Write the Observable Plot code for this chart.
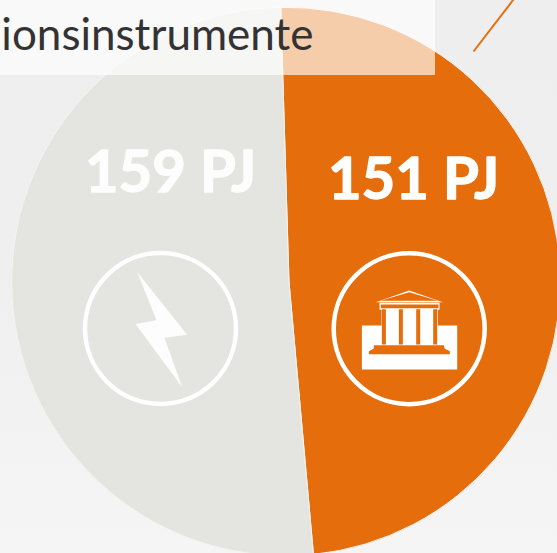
<!DOCTYPE html>
<html><head><meta charset="utf-8">
<script src="https://cdn.jsdelivr.net/npm/d3@7"></script>
<script src="https://cdn.jsdelivr.net/npm/@observablehq/plot@0.6"></script>
<style>
html,body{margin:0;padding:0;overflow:hidden;height:100%}
body{background:linear-gradient(180deg,#eeeeee 0%,#efefef 45%,#f5f5f5 100%)}
svg{display:block}
</style></head><body><div id="c"></div>
<script>
const categories = ["Instrumente", "Strom"];
const values = [151, 159];
const valueUnit = "PJ";
const titleFragment = "ionsinstrumente";
const sliceColors = ["#e56d0b", "#e4e5e0"];

// pie geometry
const pieC = [286, 281.5], pieR = 274.3, apex = [289, 282], startDeg = -1.1;

function pieMark() {
  const arcs = d3.pie().sort(null).value(d => d)
    .startAngle(startDeg * Math.PI / 180)
    .endAngle((startDeg + 360) * Math.PI / 180)(values);
  return () => {
    const g = d3.create("svg:g");
    arcs.forEach((a, i) => {
      const p = d3.path();
      p.moveTo(apex[0], apex[1]);
      p.arc(pieC[0], pieC[1], pieR, a.startAngle - Math.PI / 2, a.endAngle - Math.PI / 2);
      p.closePath();
      g.append("path").attr("d", p.toString()).attr("fill", sliceColors[i])
        .attr("stroke", "#f4f4f2").attr("stroke-width", 1);
    });
    return g.node();
  };
}

const poly = (c, pts) => { pts.forEach((q,i)=> i? c.lineTo(q[0],q[1]) : c.moveTo(q[0],q[1])); c.closePath(); };
const rect = (c, x0,y0,x1,y1) => poly(c, [[x0,y0],[x1,y0],[x1,y1],[x0,y1]]);
const bolt = {draw(c){
  poly(c, [[-23.3,-56.5],[26.7,6.3],[4,9.3],[21.7,58.7],[-25,-4.5],[-4,-8.3]]);
}};
// temple outline, relative to ring centre
const tx = x => (x-266)/3, ty = y => (y-265)/3;
const templeWhite = {draw(c){
  rect(c, tx(124),ty(255),tx(410),ty(387));
  rect(c, tx(183),ty(205),tx(352),ty(256));
  poly(c, [[tx(166),ty(185)],[tx(266),ty(150)],[tx(367),ty(185)]]);
  rect(c, tx(177),ty(187),tx(357),ty(208));
}};
const templeOrange = {draw(c){
  poly(c, [[tx(180),ty(181)],[tx(266),ty(155)],[tx(352),ty(181)]]);
  rect(c, tx(181),ty(192),tx(354),ty(203));
  [[184,196],[235,247],[287,299],[338,350]].forEach(([a,b]) => rect(c, tx(a),ty(206),tx(b),ty(312)));
  poly(c, [[tx(160),ty(314)],[tx(370),ty(314)],[tx(372),ty(324)],[tx(388),ty(332)],[tx(388),ty(341)],[tx(145),ty(341)],[tx(145),ty(332)],[tx(160),ty(324)]]);
}};

const ringL = {frameAnchor:"top-left", dx:160, dy:328};
const ringR = {frameAnchor:"top-left", dx:408.7, dy:328.3};
const one = [0];
const valueFont = {fontFamily:"Lato", fontWeight:700, fontSize:58, textAnchor:"middle", lineAnchor:"middle"};

const chart = Plot.plot({
  width:557, height:553, margin:0,
  x:{type:"identity", axis:null}, y:{type:"identity", axis:null},
  style:{background:"transparent"},
  marks:[
    pieMark(),
    Plot.text([`${values[1]} ${valueUnit}`], {...valueFont, text:d=>d, frameAnchor:"top-left", dx:170, dy:173, fill:"#fdfdfd", stroke:"#fdfdfd", strokeWidth:1.4}),
    Plot.text([`${values[0]} ${valueUnit}`], {...valueFont, text:d=>d, frameAnchor:"top-left", dx:413, dy:180, fill:"white", stroke:"white", strokeWidth:1.4}),
    Plot.dot(one, {...ringL, r:75.5, fill:"none", stroke:"white", strokeWidth:4.5}),
    Plot.dot(one, {...ringR, r:75.5, fill:"none", stroke:"white", strokeWidth:4.5}),
    Plot.dot(one, {...ringL, symbol:bolt, fill:"#fdfdfd", stroke:"none"}),
    Plot.dot(one, {...ringR, symbol:templeWhite, fill:"white", stroke:"none"}),
    Plot.dot(one, {...ringR, symbol:templeOrange, fill:sliceColors[0], stroke:"none"}),
    Plot.rect(one, {x1:()=>0, x2:()=>435, y1:()=>0, y2:()=>75, fill:"white", fillOpacity:0.66}),
    Plot.text([titleFragment], {text:d=>d, frameAnchor:"top-left", dx:313, dy:35, fill:"#333333", fontFamily:"Lato", fontSize:44, textAnchor:"end", lineAnchor:"middle"}),
    Plot.link(one, {x1:()=>473, y1:()=>51, x2:()=>513, y2:()=>-1, stroke:sliceColors[0], strokeWidth:2})
  ]
});
document.getElementById("c").append(chart);
</script></body></html>
